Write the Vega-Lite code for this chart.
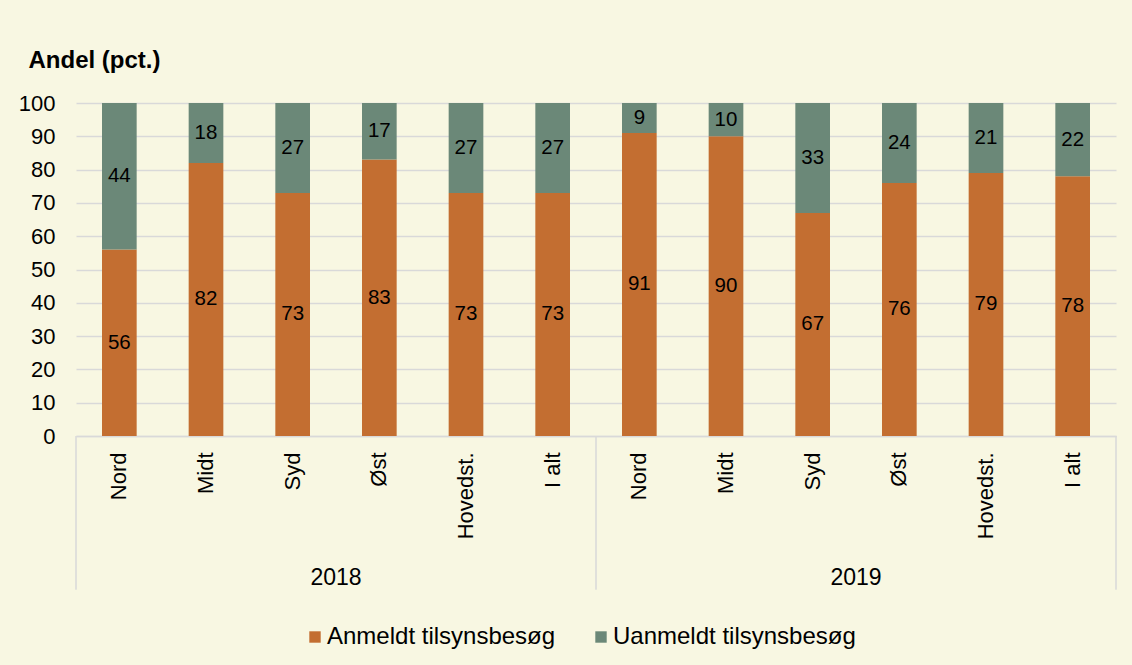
{
  "$schema": "https://vega.github.io/schema/vega-lite/v6.json",
  "background": "#F8F7E2",
  "padding": {"left": 18, "top": 48, "right": 16, "bottom": 16},
  "width": 1040,
  "height": 333,
  "config": {
    "view": {"stroke": null},
    "font": "Liberation Sans",
    "axis": {"labelFont": "Liberation Sans", "titleFont": "Liberation Sans", "labelColor": "#000000", "titleColor": "#000000"}
  },
  "data": {
    "values": [
      {"cat": "2018|Nord", "year": "2018", "region": "Nord", "series": "Anmeldt tilsynsbesøg", "value": 56},
      {"cat": "2018|Nord", "year": "2018", "region": "Nord", "series": "Uanmeldt tilsynsbesøg", "value": 44},
      {"cat": "2018|Midt", "year": "2018", "region": "Midt", "series": "Anmeldt tilsynsbesøg", "value": 82},
      {"cat": "2018|Midt", "year": "2018", "region": "Midt", "series": "Uanmeldt tilsynsbesøg", "value": 18},
      {"cat": "2018|Syd", "year": "2018", "region": "Syd", "series": "Anmeldt tilsynsbesøg", "value": 73},
      {"cat": "2018|Syd", "year": "2018", "region": "Syd", "series": "Uanmeldt tilsynsbesøg", "value": 27},
      {"cat": "2018|Øst", "year": "2018", "region": "Øst", "series": "Anmeldt tilsynsbesøg", "value": 83},
      {"cat": "2018|Øst", "year": "2018", "region": "Øst", "series": "Uanmeldt tilsynsbesøg", "value": 17},
      {"cat": "2018|Hovedst.", "year": "2018", "region": "Hovedst.", "series": "Anmeldt tilsynsbesøg", "value": 73},
      {"cat": "2018|Hovedst.", "year": "2018", "region": "Hovedst.", "series": "Uanmeldt tilsynsbesøg", "value": 27},
      {"cat": "2018|I alt", "year": "2018", "region": "I alt", "series": "Anmeldt tilsynsbesøg", "value": 73},
      {"cat": "2018|I alt", "year": "2018", "region": "I alt", "series": "Uanmeldt tilsynsbesøg", "value": 27},
      {"cat": "2019|Nord", "year": "2019", "region": "Nord", "series": "Anmeldt tilsynsbesøg", "value": 91},
      {"cat": "2019|Nord", "year": "2019", "region": "Nord", "series": "Uanmeldt tilsynsbesøg", "value": 9},
      {"cat": "2019|Midt", "year": "2019", "region": "Midt", "series": "Anmeldt tilsynsbesøg", "value": 90},
      {"cat": "2019|Midt", "year": "2019", "region": "Midt", "series": "Uanmeldt tilsynsbesøg", "value": 10},
      {"cat": "2019|Syd", "year": "2019", "region": "Syd", "series": "Anmeldt tilsynsbesøg", "value": 67},
      {"cat": "2019|Syd", "year": "2019", "region": "Syd", "series": "Uanmeldt tilsynsbesøg", "value": 33},
      {"cat": "2019|Øst", "year": "2019", "region": "Øst", "series": "Anmeldt tilsynsbesøg", "value": 76},
      {"cat": "2019|Øst", "year": "2019", "region": "Øst", "series": "Uanmeldt tilsynsbesøg", "value": 24},
      {"cat": "2019|Hovedst.", "year": "2019", "region": "Hovedst.", "series": "Anmeldt tilsynsbesøg", "value": 79},
      {"cat": "2019|Hovedst.", "year": "2019", "region": "Hovedst.", "series": "Uanmeldt tilsynsbesøg", "value": 21},
      {"cat": "2019|I alt", "year": "2019", "region": "I alt", "series": "Anmeldt tilsynsbesøg", "value": 78},
      {"cat": "2019|I alt", "year": "2019", "region": "I alt", "series": "Uanmeldt tilsynsbesøg", "value": 22}
    ]
  },
  "encoding": {
    "x": {
      "field": "cat", "type": "nominal", "sort": null,
      "scale": {"paddingInner": 0, "paddingOuter": 0},
      "axis": {"title": null, "labelAngle": -90, "labelFontSize": 22, "labelPadding": 16, "ticks": false, "tickSize": 0, "domainColor": "#D9D9D9", "domainWidth": 1.5, "labelExpr": "split(datum.label, '|')[1]"}
    }
  },
  "layer": [
    {
      "mark": {"type": "bar", "width": {"band": 0.4}},
      "encoding": {
        "y": {
          "field": "value", "type": "quantitative", "stack": "zero",
          "scale": {"domain": [0, 100], "nice": false},
          "axis": {
            "title": "Andel (pct.)", "titleAngle": 0, "titleAlign": "left", "titleBaseline": "middle",
            "titleX": -48, "titleY": -43, "titleFontSize": 24, "titleFontWeight": "bold",
            "values": [0, 10, 20, 30, 40, 50, 60, 70, 80, 90, 100],
            "labelFontSize": 22, "labelPadding": 21, "ticks": false, "tickSize": 0, "domain": false,
            "gridColor": "#D9D9D9", "gridWidth": 1.5
          }
        },
        "color": {
          "field": "series", "type": "nominal",
          "scale": {"domain": ["Anmeldt tilsynsbesøg", "Uanmeldt tilsynsbesøg"], "range": ["#C36E31", "#6B8878"]},
          "legend": {"title": null, "orient": "none", "legendX": 227, "legendY": 522, "direction": "horizontal", "symbolType": "square", "symbolSize": 130, "symbolStrokeWidth": 0, "labelFontSize": 24, "labelFont": "Liberation Sans", "labelColor": "#000000", "labelLimit": 400, "columnPadding": 33, "labelOffset": 0}
        },
        "order": {"field": "series", "sort": "ascending"}
      }
    },
    {
      "transform": [{"filter": "datum.region === 'Nord' && datum.series === 'Anmeldt tilsynsbesøg'"}],
      "mark": {"type": "rule", "color": "#D9D9D9", "strokeWidth": 1.5},
      "encoding": {
        "x": {"field": "cat", "type": "nominal", "sort": null, "bandPosition": 0},
        "y": {"datum": 0, "scale": {"domain": [0, 100], "nice": false}, "axis": null},
        "y2": {"datum": -46.2}
      }
    },
    {
      "transform": [{"filter": "datum.year === '2019' && datum.region === 'I alt' && datum.series === 'Anmeldt tilsynsbesøg'"}],
      "mark": {"type": "rule", "color": "#D9D9D9", "strokeWidth": 1.5},
      "encoding": {
        "x": {"field": "cat", "type": "nominal", "sort": null, "bandPosition": 1},
        "y": {"datum": 0, "scale": {"domain": [0, 100], "nice": false}, "axis": null},
        "y2": {"datum": -46.2}
      }
    },
    {
      "transform": [{"filter": "datum.region === 'Øst' && datum.series === 'Anmeldt tilsynsbesøg'"}],
      "mark": {"type": "text", "fontSize": 23, "font": "Liberation Sans", "color": "#000000", "baseline": "middle"},
      "encoding": {
        "x": {"field": "cat", "type": "nominal", "sort": null, "bandPosition": 0},
        "y": {"datum": -42.5, "scale": {"domain": [0, 100], "nice": false}, "axis": null},
        "text": {"field": "year", "type": "nominal"}
      }
    },
    {
      "transform": [{"filter": "datum.series === 'Anmeldt tilsynsbesøg'"}],
      "mark": {"type": "text", "fontSize": 20.5, "font": "Liberation Sans", "color": "#000000", "baseline": "middle"},
      "encoding": {
        "y": {"field": "value", "type": "quantitative", "scale": {"domain": [0, 200], "nice": false}, "axis": null},
        "text": {"field": "value", "type": "quantitative"}
      }
    },
    {
      "transform": [{"filter": "datum.series === 'Uanmeldt tilsynsbesøg'"}],
      "mark": {"type": "text", "fontSize": 20.5, "font": "Liberation Sans", "color": "#000000", "baseline": "middle"},
      "encoding": {
        "y": {"field": "value", "type": "quantitative", "scale": {"domain": [0, 200], "nice": false, "reverse": true}, "axis": null},
        "text": {"field": "value", "type": "quantitative"}
      }
    }
  ],
  "resolve": {"scale": {"y": "independent"}}
}
